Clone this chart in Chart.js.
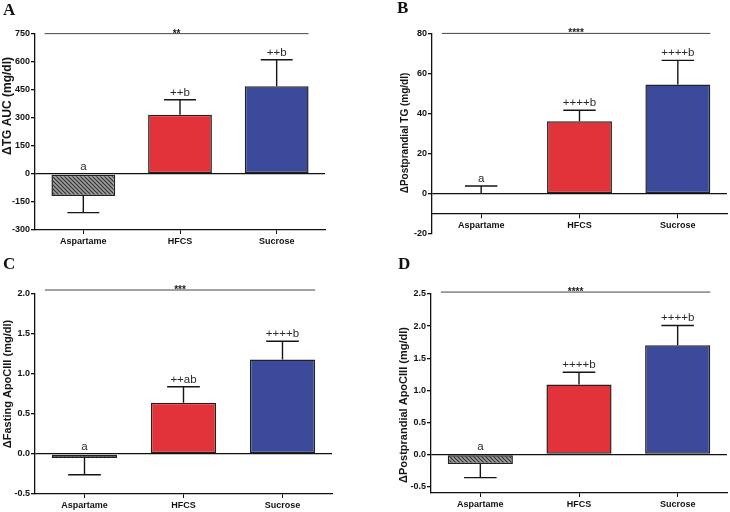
<!DOCTYPE html>
<html><head><meta charset="utf-8">
<script src="https://cdn.jsdelivr.net/npm/chart.js@4.4.1/dist/chart.umd.min.js"></script>
<style>
body{margin:0;background:#fff;width:730px;height:512px;position:relative;overflow:hidden;font-family:'Liberation Sans',Arial,sans-serif;}
.panel{position:absolute;width:365px;height:256px;}
.letter{position:absolute;font-family:'Liberation Serif','Times New Roman',serif;font-weight:bold;font-size:17px;color:#111;line-height:1;}
</style></head><body>
<div class="panel" style="left:0;top:0"><canvas id="cA" width="365" height="256"></canvas></div>
<div class="panel" style="left:365px;top:0"><canvas id="cB" width="365" height="256"></canvas></div>
<div class="panel" style="left:0;top:256px"><canvas id="cC" width="365" height="256"></canvas></div>
<div class="panel" style="left:365px;top:256px"><canvas id="cD" width="365" height="256"></canvas></div>
<div class="letter" style="left:3px;top:1px">A</div>
<div class="letter" style="left:397px;top:-1px">B</div>
<div class="letter" style="left:3px;top:255px">C</div>
<div class="letter" style="left:398px;top:255px">D</div>
<script>
// ---- data ----
const categories = ['Aspartame', 'HFCS', 'Sucrose'];

const tgAucMean = [-118, 318, 470];
const tgAucSem = [89, 80, 142];
const tgAucLetters = ['a', '++b', '++b'];
const tgAucTicks = [-300, -150, 0, 150, 300, 450, 600, 750];
const tgAucStars = '**';

const ppTgMean = [0.5, 36.4, 54.8];
const ppTgSem = [3.5, 5.5, 12];
const ppTgLetters = ['a', '++++b', '++++b'];
const ppTgTicks = [-20, 0, 20, 40, 60, 80];
const ppTgStars = '****';

const fastApoMean = [-0.05, 0.64, 1.18];
const fastApoSem = [0.21, 0.2, 0.23];
const fastApoLetters = ['a', '++ab', '++++b'];
const fastApoTicks = [-0.5, 0.0, 0.5, 1.0, 1.5, 2.0];
const fastApoStars = '***';

const ppApoMean = [-0.15, 1.09, 1.70];
const ppApoSem = [0.21, 0.19, 0.31];
const ppApoLetters = ['a', '++++b', '++++b'];
const ppApoTicks = [-0.5, 0.0, 0.5, 1.0, 1.5, 2.0, 2.5];
const ppApoStars = '****';

// ---- styling helpers ----
const FAM = "'Liberation Sans', Arial, sans-serif";
function hatch() {
  const c = document.createElement('canvas'); c.width = 4; c.height = 4;
  const x = c.getContext('2d');
  x.fillStyle = '#a0a0a0'; x.fillRect(0, 0, 4, 4);
  x.strokeStyle = '#303030'; x.lineWidth = 1.2;
  x.beginPath();
  x.moveTo(-1, -1); x.lineTo(5, 5);
  x.moveTo(-1, 3); x.lineTo(1, 5);
  x.moveTo(3, -1); x.lineTo(5, 1);
  x.stroke();
  return x.createPattern(c, 'repeat');
}

const annot = {
  id: 'annot',
  afterDatasetsDraw(chart, args, o) {
    const ctx = chart.ctx, meta = chart.getDatasetMeta(0);
    const y = chart.scales.y, x = chart.scales.x;
    const ds = chart.data.datasets[0];
    ctx.save();
    meta.data.forEach((bar, i) => {
      const v = ds.data[i], e = o.sem[i];
      const end = v >= 0 ? v + e : v - e;
      const p0 = y.getPixelForValue(v), p1 = y.getPixelForValue(end);
      const half = bar.width / 4;
      ctx.strokeStyle = '#151515'; ctx.lineWidth = 1.4;
      ctx.beginPath();
      ctx.moveTo(bar.x, p0); ctx.lineTo(bar.x, p1);
      ctx.moveTo(bar.x - half, p1); ctx.lineTo(bar.x + half, p1);
      ctx.stroke();
      const anchor = y.getPixelForValue(Math.max(0, end));
      ctx.fillStyle = '#2a2a2a';
      ctx.font = '11.5px ' + FAM;
      ctx.textAlign = 'center'; ctx.textBaseline = 'alphabetic';
      ctx.fillText(o.letters[i], bar.x, anchor - 4);
    });
    const ly = y.getPixelForValue(o.sigValue);
    const lx0 = x.getPixelForValue(o.sigFrom), lx1 = x.getPixelForValue(o.sigTo);
    ctx.strokeStyle = '#444'; ctx.lineWidth = 1;
    ctx.beginPath(); ctx.moveTo(lx0, ly); ctx.lineTo(lx1, ly); ctx.stroke();
    ctx.fillStyle = '#1a1a1a';
    ctx.font = 'bold 10px ' + FAM;
    ctx.textAlign = 'center'; ctx.textBaseline = 'alphabetic';
    ctx.fillText(o.stars, (lx0 + lx1) / 2, ly + 3);
    // y title
    ctx.translate(o.titleX, o.titleY);
    ctx.rotate(-Math.PI / 2);
    ctx.font = 'bold ' + o.titleSize + 'px ' + FAM;
    ctx.fillStyle = '#151515';
    ctx.textAlign = 'center'; ctx.textBaseline = 'middle';
    ctx.fillText(o.title, 0, 0);
    ctx.restore();
  }
};

function build(id, c) {
  const W = 365, H = 256;
  const xAt = c.xAxisAt;
  const tickFont = { size: 9, weight: 'bold', family: FAM };
  new Chart(document.getElementById(id), {
    type: 'bar',
    data: {
      labels: categories,
      datasets: [{
        data: c.mean,
        backgroundColor: [hatch(), '#e2333b', '#3b4a9b'],
        borderColor: '#222',
        borderWidth: 1.5,
        borderSkipped: false,
        categoryPercentage: 1,
        barPercentage: 0.66
      }]
    },
    options: {
      responsive: false,
      animation: false,
      events: [],
      layout: { padding: { left: c.padLeft, top: c.area.top, right: W - c.area.right, bottom: xAt !== undefined ? H - c.area.bottom : 0 } },
      plugins: {
        legend: { display: false },
        tooltip: { enabled: false },
        annot: { sem: c.sem, letters: c.letters, stars: c.stars, sigValue: c.sigValue, sigFrom: -0.4, sigTo: 2.33,
                 title: c.title, titleX: c.titleX, titleY: c.titleY, titleSize: c.titleSize }
      },
      scales: {
        x: {
          type: 'category',
          offset: true,
          position: xAt !== undefined ? { y: xAt } : 'bottom',
          grid: { display: true, drawOnChartArea: false, drawTicks: true, tickLength: 4, color: '#111', offset: false },
          border: { display: true, color: '#111', width: 1.3 },
          ticks: { font: tickFont, color: '#111', padding: 2, maxRotation: 0, autoSkip: false },
          afterFit: s => { s.height = H - c.area.bottom; }
        },
        y: {
          min: c.min, max: c.max,
          afterBuildTicks: s => { s.ticks = c.ticks.map(v => ({ value: v })); },
          afterFit: s => { s.width = c.area.left - c.padLeft; },
          grid: {
            drawOnChartArea: true, drawTicks: true, tickLength: 4, tickColor: '#111', lineWidth: 1.3,
            color: ctx => (ctx.tick && ctx.tick.value === 0) ? '#111' : 'rgba(0,0,0,0)'
          },
          border: { display: true, color: '#111', width: 1.3 },
          ticks: { font: tickFont, color: '#111', padding: 1, callback: v => c.fmt(v) }
        }
      }
    },
    plugins: [annot]
  });
}

const intFmt = v => String(v);
const decFmt = v => v.toFixed(1);

build('cA', { mean: tgAucMean, sem: tgAucSem, letters: tgAucLetters, ticks: tgAucTicks, stars: tgAucStars,
  min: -300, max: 750, fmt: intFmt, area: { left: 35, top: 34, right: 325, bottom: 230 }, padLeft: 1,
  sigValue: 752, title: 'ΔTG AUC (mg/dl)', titleX: 8, titleY: 106, titleSize: 12 });

build('cB', { mean: ppTgMean, sem: ppTgSem, letters: ppTgLetters, ticks: ppTgTicks, stars: ppTgStars,
  min: -20, max: 80, fmt: intFmt, area: { left: 67, top: 34, right: 362, bottom: 234 }, padLeft: 33, xAxisAt: -10,
  sigValue: 80.3, title: 'ΔPostprandial TG (mg/dl)', titleX: 40, titleY: 133, titleSize: 10 });

build('cC', { mean: fastApoMean, sem: fastApoSem, letters: fastApoLetters, ticks: fastApoTicks, stars: fastApoStars,
  min: -0.5, max: 2.0, fmt: decFmt, area: { left: 35, top: 38, right: 332, bottom: 238 }, padLeft: 1,
  sigValue: 2.05, title: 'ΔFasting ApoCIII (mg/dl)', titleX: 8, titleY: 128, titleSize: 11 });

build('cD', { mean: ppApoMean, sem: ppApoSem, letters: ppApoLetters, ticks: ppApoTicks, stars: ppApoStars,
  min: -0.6, max: 2.5, fmt: decFmt, area: { left: 66, top: 38, right: 362, bottom: 237 }, padLeft: 32,
  sigValue: 2.53, title: 'ΔPostprandial ApoCIII (mg/dl)', titleX: 39, titleY: 149, titleSize: 11 });
</script>
</body></html>
